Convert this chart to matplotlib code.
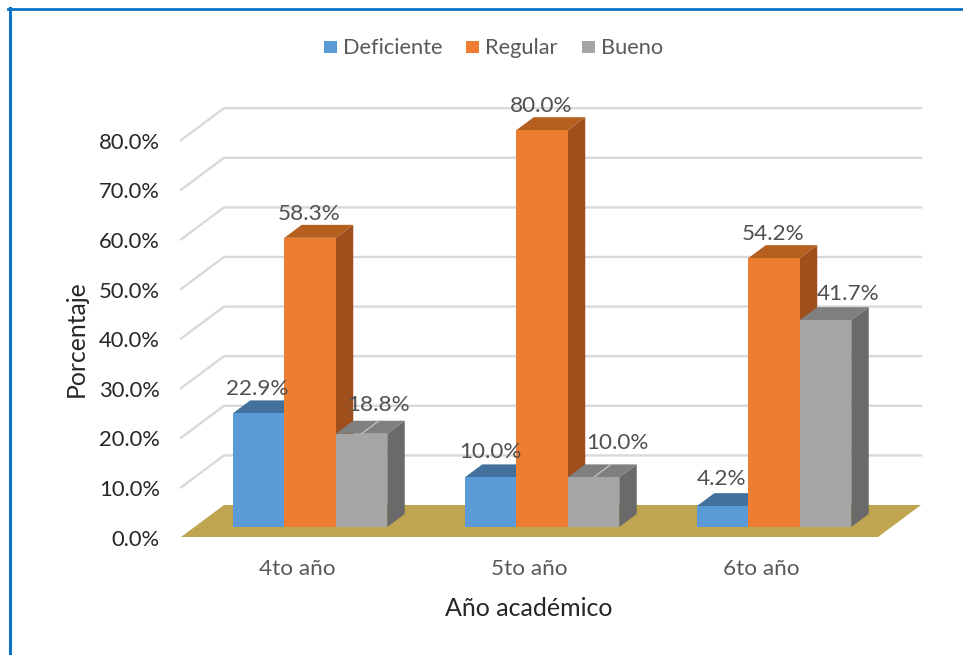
import numpy as np
import matplotlib
matplotlib.use('Agg')
import matplotlib.pyplot as plt
from matplotlib.patches import Polygon

plt.rcParams['font.family'] = ['Lato', 'DejaVu Sans']

# datos
categorias = ['4to año', '5to año', '6to año']
series = ['Deficiente', 'Regular', 'Bueno']
deficiente = [22.9, 10.0, 4.2]
regular = [58.3, 80.0, 54.2]
bueno = [18.8, 10.0, 41.7]
ticks_y = [0, 10, 20, 30, 40, 50, 60, 70, 80]

# escala: pixeles de la imagen <-> datos
W, H = 963, 655
PX_X = 232.0   # pixeles por categoria
PX_Y = 4.96    # pixeles por punto porcentual
X0, Y0 = 310, 527  # pixel de x=0, y=0 (plano frontal de las barras)
ANCHO = 51.5 / PX_X


def dx(px):
    return px / PX_X


def dy(px):
    return px / PX_Y


fig = plt.figure(figsize=(W / 100, H / 100), dpi=100)
ax = fig.add_axes([0, 0, 1, 1])
ax.set_xlim(-X0 / PX_X, (W - X0) / PX_X)
ax.set_ylim(-(H - Y0) / PX_Y, Y0 / PX_Y)
ax.axis('off')

# marco azul
ax.plot([-X0 / PX_X + dx(9.5)] * 2, [-(H - Y0) / PX_Y, dy(Y0 - 8)], color='#0B72C4', lw=2.2, zorder=1)
ax.plot([-X0 / PX_X + dx(8.5), (W - X0) / PX_X], [dy(Y0 - 8.5)] * 2, color='#0B72C4', lw=2.0, zorder=1)

# pared y lineas de division
izq = dx(181 - X0)
fondo = dx(224 - X0)
der = dx(921 - X0)
base_frente = dy(Y0 - 537)
base_fondo = dy(Y0 - 505)
for t in ticks_y[1:]:
    ax.plot([izq, fondo, der], [base_frente + t, base_fondo + t, base_fondo + t],
            color='#D9D9D9', lw=1.7, zorder=1, solid_joinstyle='miter')

# piso
ax.add_patch(Polygon([[izq, base_frente], [fondo, base_fondo], [der, base_fondo],
                      [dx(878 - X0), base_frente]], closed=True, facecolor='#BFA54F',
                     edgecolor='none', zorder=2))

# barras 3D: frente con ax.bar, lado y tapa como poligonos
colores = ['#5B9BD5', '#ED7D31', '#A5A5A5']
tapas = ['#41719C', '#B5601F', '#7F7F7F']
lados = ['#41719C', '#9E4F1C', '#6A6A6A']
valores = [deficiente, regular, bueno]
prof_x = dx(17.5)
prof_y = dy(13)
etiq_dx = [[-1, 0, -1], [-1, -1, -1], [17, 24, 23]]
etiq_dy = [[26, 27, 29], [26, 26, 26], [31, 36, 28]]

z = 3
for c in range(3):
    for s in range(3):
        x = c + (s - 1) * ANCHO
        v = valores[s][c]
        i, d = x - ANCHO / 2, x + ANCHO / 2
        ax.add_patch(Polygon([[d, 0], [d + prof_x, prof_y], [d + prof_x, v + prof_y], [d, v]],
                             closed=True, facecolor=lados[s], edgecolor='none', zorder=z))
        ax.add_patch(Polygon([[i, v], [i + prof_x, v + prof_y], [d + prof_x, v + prof_y], [d, v]],
                             closed=True, facecolor=tapas[s], edgecolor='none', zorder=z))
        ax.bar(x, v, width=ANCHO, color=colores[s], zorder=z + 0.5)
        # linea clara que asoma en la tapa gris
        if s == 2 and c < 2:
            ax.plot([x, x + prof_x], [v, v + prof_y], color='#BFBFBF', lw=1, zorder=z + 0.2)
        z += 1

# etiquetas de datos
for c in range(3):
    for s in range(3):
        x = c + (s - 1) * ANCHO
        v = valores[s][c]
        ax.text(x + dx(etiq_dx[s][c]), v + dy(etiq_dy[s][c] - 2), '%.1f%%' % v, ha='center', va='center',
                fontsize=16.2, color='#505050', zorder=30)

# ejes
for t in ticks_y:
    ax.text(dx(160 - X0), base_frente + t + dy(-2.5), '%.1f%%' % t, ha='right', va='center', fontsize=15.8, color='#262626')
for c, nombre in enumerate(categorias):
    ax.text(c + dx(-13), dy(Y0 - 569), nombre, ha='center', va='center', fontsize=16.2, color='#595959')
ax.text(dx(529 - X0), dy(Y0 - 608), 'Año académico', ha='center', va='center', fontsize=18, color='#262626')
ax.text(dx(76 - X0), dy(Y0 - 339), 'Porcentaje', ha='center', va='center', rotation=90, fontsize=17.8, color='#262626')

# leyenda
leg_x = [324, 466, 582]
for s, nombre in enumerate(series):
    ax.add_patch(Polygon([[dx(leg_x[s] - X0), dy(Y0 - 53)], [dx(leg_x[s] + 13 - X0), dy(Y0 - 53)],
                          [dx(leg_x[s] + 13 - X0), dy(Y0 - 41)], [dx(leg_x[s] - X0), dy(Y0 - 41)]],
                         closed=True, facecolor=colores[s], edgecolor='none'))
    ax.text(dx(leg_x[s] + 19 - X0), dy(Y0 - 48.5), nombre, ha='left', va='center', fontsize=15.7, color='#595959')

plt.savefig('out.png', dpi=100)
